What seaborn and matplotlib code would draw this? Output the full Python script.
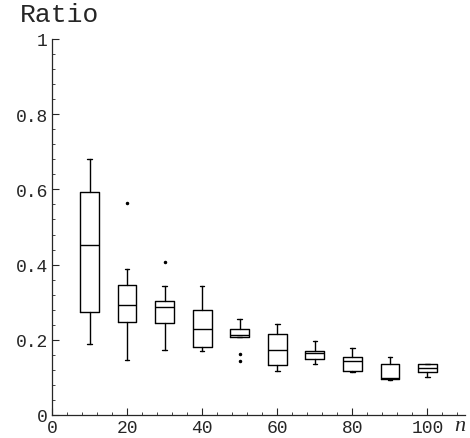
import numpy as np
import seaborn as sns
import matplotlib.pyplot as plt
from matplotlib.ticker import MultipleLocator

# box statistics
n_values = [10, 20, 30, 40, 50, 60, 70, 80, 90, 100]
whisker_low = [0.189, 0.147, 0.173, 0.169, 0.208, 0.118, 0.135, 0.114, 0.094, 0.102]
q1 = [0.275, 0.247, 0.246, 0.182, 0.208, 0.133, 0.149, 0.118, 0.097, 0.115]
median = [0.453, 0.293, 0.286, 0.229, 0.214, 0.173, 0.166, 0.144, 0.099, 0.126]
q3 = [0.594, 0.347, 0.303, 0.279, 0.230, 0.215, 0.171, 0.154, 0.136, 0.136]
whisker_high = [0.681, 0.387, 0.342, 0.342, 0.256, 0.243, 0.198, 0.177, 0.153, 0.136]
outliers = [[], [0.563], [0.406], [], [0.163, 0.144], [], [], [], [], []]

y_ticks = [0, 0.2, 0.4, 0.6, 0.8, 1.0]
y_tick_labels = ["0", "0.2", "0.4", "0.6", "0.8", "1"]
x_ticks = [0, 20, 40, 60, 80, 100]
x_tick_labels = ["0", "20", "40", "60", "80", "100"]

sns.set_style("ticks")
plt.rcParams["font.family"] = ["Liberation Mono", "DejaVu Sans"]

stats = []
for i, n in enumerate(n_values):
    stats.append({
        "whislo": whisker_low[i], "q1": q1[i], "med": median[i],
        "q3": q3[i], "whishi": whisker_high[i], "fliers": outliers[i],
        "label": str(n),
    })

fig = plt.figure(figsize=(4.7, 4.39), dpi=100)
ax = fig.add_axes([52 / 470, 23 / 439, 413 / 470, 376 / 439])

ax.bxp(
    stats, positions=n_values, widths=5, capwidths=1.2, manage_ticks=False,
    boxprops=dict(color="black", linewidth=1.0),
    medianprops=dict(color="black", linewidth=1.0),
    whiskerprops=dict(color="black", linewidth=1.0),
    capprops=dict(color="black", linewidth=1.0),
    flierprops=dict(marker=".", markersize=3, markerfacecolor="black",
                    markeredgecolor="black"),
)

ax.set_xlim(0, 110)
ax.set_ylim(0, 1.0)
sns.despine(ax=ax)
ax.spines["left"].set_linewidth(0.9)
ax.spines["bottom"].set_linewidth(0.9)

ax.set_xticks(x_ticks)
ax.set_xticklabels(x_tick_labels, fontsize=13)
ax.set_yticks(y_ticks)
ax.set_yticklabels(y_tick_labels, fontsize=13)
ax.xaxis.set_minor_locator(MultipleLocator(4))
ax.yaxis.set_minor_locator(MultipleLocator(0.04))
ax.tick_params(which="major", direction="in", length=5, width=0.8, pad=3)
ax.tick_params(which="minor", direction="in", length=2.5, width=0.6)

fig.text(20 / 470, 1 - 15 / 439, "Ratio", fontsize=19, va="center", ha="left")
fig.text(460 / 470, 1 - 427 / 439, "n", fontsize=16, style="italic",
         family="Liberation Serif", va="center", ha="center")

plt.savefig("out.png", dpi=100)
plt.close()
